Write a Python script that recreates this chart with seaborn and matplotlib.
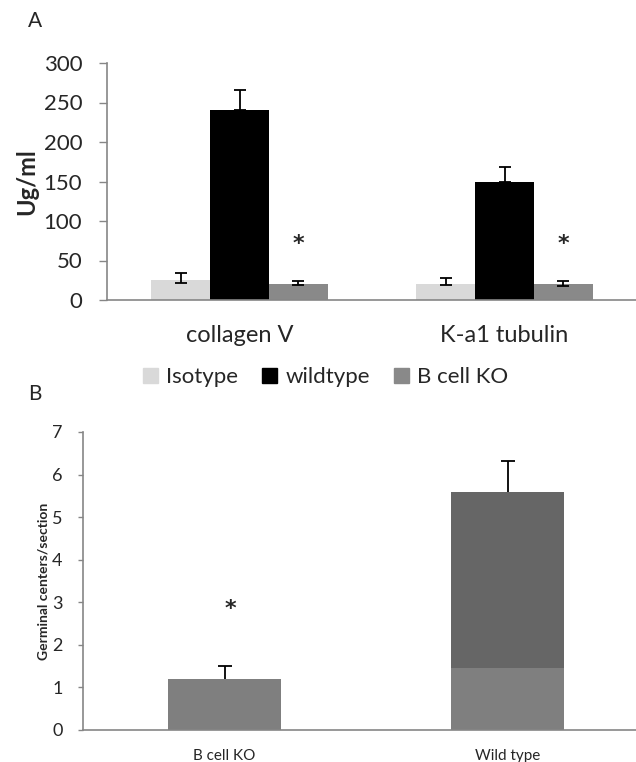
import matplotlib
matplotlib.use("Agg")
import matplotlib.pyplot as plt
import numpy as np
import pandas as pd
import seaborn as sns

# panel A: antibody levels
antigens = ["collagen V", "K-a1 tubulin"]
groups = ["Isotype", "wildtype", "B cell KO"]
isotype_vals = [25, 20]
wildtype_vals = [240, 150]
bcellko_vals = [20, 20]
isotype_err_lo = [3, 1.5]
isotype_err_hi = [9, 8]
wildtype_err_lo = [0, 0]
wildtype_err_hi = [26, 18]
bcellko_err_lo = [1.5, 2.5]
bcellko_err_hi = [3.5, 4.5]
star_a = 71

# panel B: germinal centers
strains = ["B cell KO", "Wild type"]
gc_vals = [1.2, 5.6]
gc_err = [0.31, 0.71]
gc_lower_strain = ["Wild type"]
gc_lower_vals = [1.45]
star_b = 2.85

axis_grey = "#868686"
colors_a = {"Isotype": "#d9d9d9", "wildtype": "#000000", "B cell KO": "#898989"}

sns.set_theme(style="white")
plt.rcParams["font.family"] = ["Lato", "DejaVu Sans"]

df_a = pd.DataFrame({
    "antigen": antigens * 3,
    "group": [g for g in groups for _ in antigens],
    "value": isotype_vals + wildtype_vals + bcellko_vals,
    "lo": isotype_err_lo + wildtype_err_lo + bcellko_err_lo,
    "hi": isotype_err_hi + wildtype_err_hi + bcellko_err_hi,
})

fig = plt.figure(figsize=(6.36, 7.62), dpi=100)
W, H = 636, 762


def px_axes(left, right, top, bottom):
    return fig.add_axes([left / W, 1 - bottom / H, (right - left) / W, (bottom - top) / H])


def style_axes(ax, fs, ylen):
    for s in ["top", "right"]:
        ax.spines[s].set_visible(False)
    for s in ["left", "bottom"]:
        ax.spines[s].set_color(axis_grey)
        ax.spines[s].set_linewidth(1.2)
    ax.set_xlim(-0.5, 1.5)
    ax.set_xticks([-0.5, 0.5, 1.5], minor=True)
    ax.tick_params(axis="x", which="major", length=0, labelsize=fs)
    ax.tick_params(axis="x", which="minor", length=5, width=1, color=axis_grey, direction="out")
    ax.tick_params(axis="y", length=ylen, width=1, color=axis_grey, direction="out", left=True)
    ax.set_xlabel("")


# ---- panel A
ax1 = px_axes(107, 637, 63, 300)
sns.barplot(data=df_a, x="antigen", y="value", hue="group", order=antigens,
            hue_order=groups, palette=colors_a, width=0.667, saturation=1,
            errorbar=None, legend=False, ax=ax1)
for bar in ax1.patches:
    bar.set_edgecolor("none")

bars = [b for b in ax1.patches if b.get_height() > 0]
for i, g in enumerate(groups):
    sub = df_a[df_a["group"] == g]
    gbars = bars[i * 2:(i + 1) * 2]
    xs = [b.get_x() + b.get_width() / 2 for b in gbars]
    ax1.errorbar(xs, sub["value"], yerr=[sub["lo"], sub["hi"]], fmt="none",
                 ecolor="black", elinewidth=1.3, capsize=4, capthick=1.3)
    if g == "B cell KO":
        for x in xs:
            ax1.text(x, star_a, "*", ha="center", va="center", fontsize=16,
                     fontweight="bold", family=["DejaVu Sans"])

ax1.set_ylim(0, 300)
ax1.set_yticks(range(0, 301, 50))
style_axes(ax1, 17, 5.8)
ax1.tick_params(axis="y", labelsize=16, pad=12)
ax1.set_ylabel("Ug/ml", fontsize=17, fontweight="bold", labelpad=4)
ax1.tick_params(axis="x", pad=18)

handles = [plt.Rectangle((0, 0), 1, 1, color=colors_a[g]) for g in groups]
fig.legend(handles, groups, loc="center", bbox_to_anchor=(325.5 / W, 1 - 377 / H),
           ncol=3, frameon=False, fontsize=16, handlelength=0.68, handleheight=0.68,
           handletextpad=0.35, columnspacing=1.1)

fig.text(28 / W, 1 - 21 / H, "A", fontsize=15, va="center", ha="left")

# ---- panel B
df_b = pd.DataFrame({"strain": strains, "value": gc_vals, "err": gc_err})
df_low = pd.DataFrame({"strain": gc_lower_strain, "value": gc_lower_vals})

ax2 = px_axes(83, 649, 432, 730)
sns.barplot(data=df_b, x="strain", y="value", hue="strain", order=strains,
            palette=["#7f7f7f", "#666666"], width=0.4, saturation=1,
            errorbar=None, legend=False, ax=ax2)
sns.barplot(data=df_low, x="strain", y="value", order=strains, color="#7f7f7f",
            width=0.4, saturation=1, errorbar=None, ax=ax2)
for bar in ax2.patches:
    bar.set_edgecolor("none")

main_bars = ax2.patches[:2]
xs_b = [b.get_x() + b.get_width() / 2 for b in main_bars]
eb = ax2.errorbar(xs_b, df_b["value"], yerr=[np.zeros(len(strains)), df_b["err"]],
                  fmt="none", ecolor="black", elinewidth=1.3, capsize=5, capthick=1.3)
eb[1][0].set_visible(False)
ax2.text(xs_b[0] + 0.02, star_b, "*", ha="center", va="center", fontsize=16,
         fontweight="bold", family=["DejaVu Sans"])

ax2.set_ylim(0, 7)
ax2.set_yticks(range(0, 8))
style_axes(ax2, 11, 3.6)
ax2.tick_params(axis="y", labelsize=13, pad=11)
ax2.tick_params(axis="x", pad=14)
ax2.set_ylabel("Germinal centers/section", fontsize=10, fontweight="bold", labelpad=2)

fig.text(28 / W, 1 - 394 / H, "B", fontsize=15, va="center", ha="left")

fig.savefig("out.png", dpi=100)
